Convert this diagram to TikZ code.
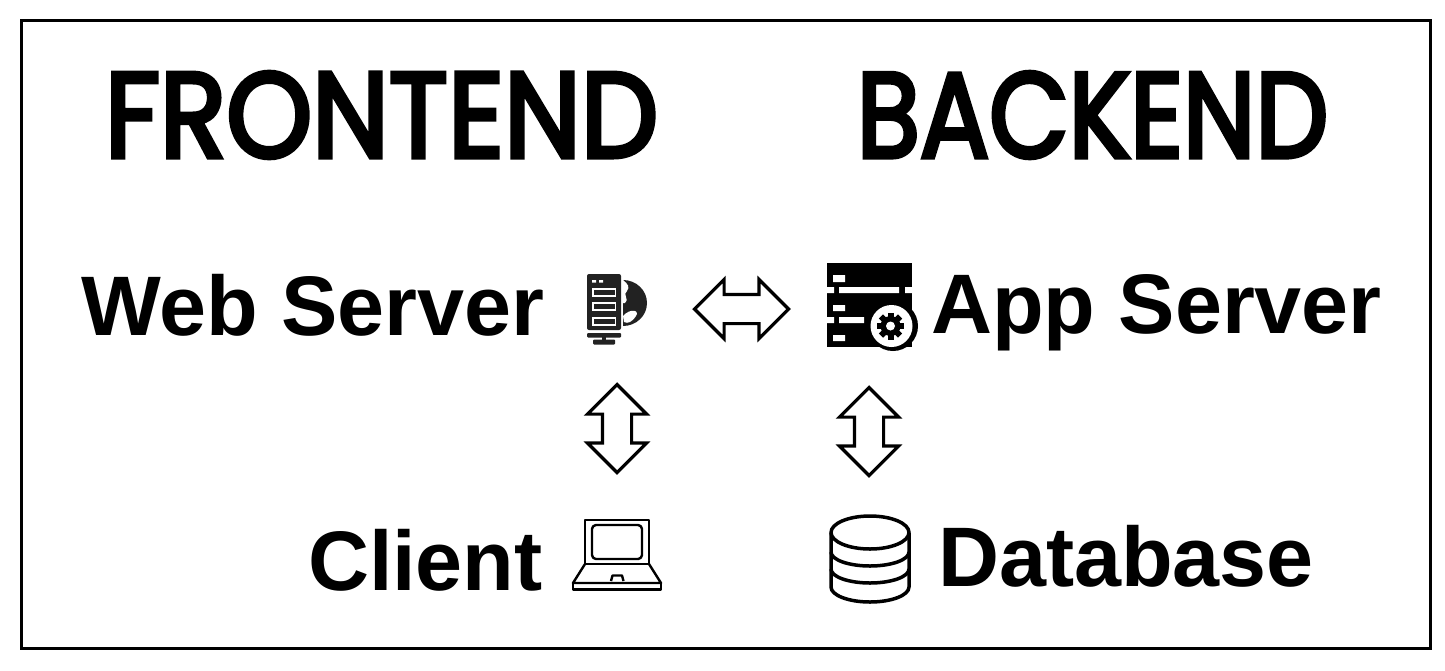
\documentclass[tikz,border=0pt]{standalone}
\usepackage{fontspec}
\usepackage{graphicx}
\usetikzlibrary{shapes.arrows}
\setmainfont{Liberation Sans}
\newfontfamily\titlefont[FakeBold=4]{Poppins}
\definecolor{icondark}{HTML}{222222}
\tikzset{
  frame/.style={draw=black,line width=3pt},
  label/.style={font=\fontsize{84.5}{84.5}\selectfont\bfseries,anchor=base west,inner sep=0pt,outer sep=0pt,text=black},
  heading/.style={anchor=center,inner sep=0pt,outer sep=0pt,text=black},
  blockarrow/.style={shape=double arrow,draw=black,fill=white,line width=3.2pt,inner xsep=0pt,inner ysep=13pt,outer sep=0pt,
    double arrow head extend=15pt,double arrow tip angle=90,text width=0pt,text height=0pt,text depth=0pt},
  iconline/.style={draw=black,line width=3.5pt,line join=round,fill=none},
  thinline/.style={draw=black,line width=2.4pt,line join=round,fill=none},
}
\begin{document}
\begin{tikzpicture}[x=1pt,y=-1pt]
\useasboundingbox (0,0) rectangle (1445,670);
\fill[white] (0,0) rectangle (1445,670);
\draw[frame] (21,20) rectangle (1430,648);
% headings
\node[heading] (front) at (381.5,115) {\resizebox{553pt}{85pt}{\titlefont FRONTEND}};
\node[heading] (back) at (1092.5,115) {\resizebox{471pt}{85pt}{\titlefont BACKEND}};
% labels
\node[label] (web) at (81,335) {Web Server};
\node[label] (app) at (931,333) {App Server};
\node[label] (client) at (308,590) {Client};
\node[label] (db) at (938,586) {Database};
% block arrows
\node[blockarrow,minimum height=94pt,minimum width=56pt] (h) at (741.5,309) {};
\node[blockarrow,rotate=90,minimum height=88pt,minimum width=56pt] (v1) at (617,428.5) {};
\node[blockarrow,rotate=90,minimum height=88pt,minimum width=56pt] (v2) at (869,431.5) {};
% web server icon
\fill[icondark,rounded corners=2pt] (587,274) rectangle (621,330);
\fill[white] (592,280) rectangle (596,282.5) (599,280) rectangle (603,282.5);
\foreach \y in {289,303,318}{
  \draw[white,line width=1.3pt] (593,\y) rectangle (615.5,\y+7);
}
\fill[icondark,rounded corners=1pt] (587,333) rectangle (621,337.5);
\fill[icondark] (602,337) rectangle (606,340);
\fill[icondark,rounded corners=1pt] (593,339.5) rectangle (615,344.5);
\fill[icondark] (623,280) arc[start angle=-90,end angle=90,x radius=24,y radius=23] -- cycle;
\fill[white] (623,280) .. controls (628,284) and (630,287) .. (627,291) .. controls (622,294) and (630,300) .. (625,303) -- (623,303) -- cycle;
\fill[white] (623,316) .. controls (630,308) and (640,310) .. (636,316) .. controls (632,322) and (628,324) .. (624,322) -- cycle;
% app server icon
\fill[black] (827,263) rectangle (912,347);
\fill[white] (833,275) rectangle (845,282) (833,305) rectangle (845,311) (833,335) rectangle (845,341);
\fill[white] (827,287) rectangle (834,293) (839,287) rectangle (899,293) (905,287) rectangle (912,293);
\fill[white] (827,317) rectangle (834,323) (839,317) rectangle (864,323);
\fill[black] (893,326) circle[radius=25];
\fill[white] (891.5,326) circle[radius=21];
\fill[black] (890.5,326) circle[radius=10];
\foreach \a in {0,45,...,315}{
  \fill[black,rotate around={\a:(890.5,326)}] (887.5,312.5) rectangle (893.5,320);
}
\fill[white] (890.5,326) circle[radius=4.5];
% laptop icon
\draw[thinline] (585,564) -- (585,520) -- (649,520) -- (649,564);
\draw[thinline,rounded corners=4pt] (592,525) rectangle (642,559);
\draw[thinline] (584,564) -- (650,564);
\draw[thinline] (585,564) -- (573,583) -- (661,583) -- (649,564);
\draw[thinline] (573,583) -- (573,589.5) -- (661,589.5) -- (661,583);
\draw[thinline] (611,581) -- (612.5,575.5) -- (622,575.5) -- (623.5,581);
% database icon
\draw[iconline] (870,532.5) ellipse[x radius=39,y radius=16.5];
\draw[iconline] (831,532.5) -- (831,587) arc[start angle=180,end angle=0,x radius=39,y radius=15] -- (909,532.5);
\draw[iconline] (831,552) arc[start angle=180,end angle=0,x radius=39,y radius=14];
\draw[iconline] (831,569) arc[start angle=180,end angle=0,x radius=39,y radius=14];
\end{tikzpicture}
\end{document}
